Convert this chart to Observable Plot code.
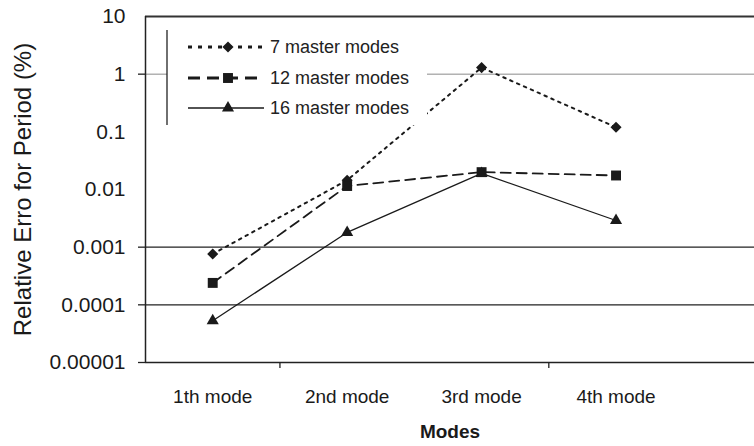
<!DOCTYPE html>
<html><head><meta charset="utf-8">
<script src="https://cdn.jsdelivr.net/npm/d3@7"></script>
<script src="https://cdn.jsdelivr.net/npm/@observablehq/plot@0.6"></script>
<style>
html,body{margin:0;padding:0;background:#fff;}
#wrap{position:relative;width:754px;height:446px;}
#wrap svg{font-family:"Liberation Sans",Arial,sans-serif;}
#legend{position:absolute;left:0;top:0;}
</style></head><body><div id="wrap"></div>
<script>
// ---- data ----
const modes = ["1th mode", "2nd mode", "3rd mode", "4th mode"];
const seriesNames = ["7 master modes", "12 master modes", "16 master modes"];
const err7 = [0.00076, 0.0145, 1.3, 0.12];
const err12 = [0.00024, 0.0115, 0.020, 0.0175];
const err16 = [0.000053, 0.0018, 0.019, 0.0029];
const yTickValues = [10, 1, 0.1, 0.01, 0.001, 0.0001, 0.00001];
const yTickLabels = ["10", "1", "0.1", "0.01", "0.001", "0.0001", "0.00001"];
const yTickMarkValues = [1, 0.001, 0.0001, 0.00001];
const gridLight = [1];
const gridDark = [0.001, 0.0001];
const xBoundaryTicks = [0.5, 2.5];
const yTitle = "Relative Erro for Period (%)";
const xTitle = "Modes";

const seriesValues = [err7, err12, err16];
const data = seriesNames.flatMap((s, k) =>
  modes.map((m, i) => ({series: s, idx: i, mode: m, value: seriesValues[k][i]})));
const modeIdx = modes.map((m, i) => i);

const styles = [
  {symbol: "diamond2", r: 5, dash: "2.5,5", width: 2, legDash: "4,6", legWidth: 3},
  {symbol: "square", r: 5.6, dash: "10,6", width: 1.8, legDash: "12,7", legWidth: 3},
  {symbol: "triangle", r: 4.5, dash: null, width: 1.3, legDash: null, legWidth: 1.6}
];
const ink = "#1a1a1a";

const seriesMarks = seriesNames.flatMap((s, k) => {
  const st = styles[k];
  const rows = data.filter(d => d.series === s);
  return [
    Plot.line(rows, {x: "idx", y: "value", stroke: ink, strokeWidth: st.width,
      strokeDasharray: st.dash ?? undefined}),
    Plot.dot(rows, {x: "idx", y: "value", symbol: () => st.symbol, r: st.r, fill: ink, stroke: "none"})
  ];
});

const chart = Plot.plot({
  width: 754, height: 446,
  marginLeft: 145, marginRight: 0, marginTop: 16, marginBottom: 84,
  style: {fontFamily: '"Liberation Sans", Arial, sans-serif', color: ink, background: "#fff", overflow: "visible"},
  x: {type: "linear", domain: [-0.5, 4.03]},
  y: {type: "log", domain: [1e-5, 10]},
  symbol: {type: "identity"},
  marks: [
    Plot.ruleY(gridLight, {stroke: "#8a8a8a", strokeWidth: 1}),
    Plot.ruleY(gridDark, {stroke: "#222", strokeWidth: 1.3}),
    Plot.ruleY([10], {stroke: "#333", strokeWidth: 2}),
    Plot.ruleY([1e-5], {stroke: "#222", strokeWidth: 1.5}),
    Plot.ruleX([-0.5], {stroke: "#222", strokeWidth: 1.5}),
    Plot.axisY(yTickValues, {tickSize: 0, tickPadding: 20, fontSize: 21, label: null,
      tickFormat: d => yTickLabels[yTickValues.indexOf(d)]}),
    Plot.axisY(yTickMarkValues, {tickSize: 7, tickFormat: () => "", label: null, stroke: "#222", strokeWidth: 1.3}),
    Plot.axisX(modeIdx, {tickSize: 0, tickPadding: 27, fontSize: 19, label: null,
      tickFormat: i => modes[i]}),
    Plot.axisX(xBoundaryTicks, {tickSize: 6, tickFormat: () => "", label: null, stroke: "#222", strokeWidth: 1.3}),
    Plot.text([yTitle], {text: d => d, frameAnchor: "left", textAnchor: "middle", dx: -122, rotate: -90, fontSize: 24}),
    Plot.text([xTitle], {text: d => d, frameAnchor: "bottom", dy: 75, fontSize: 19, fontWeight: "bold"}),
    ...seriesMarks
  ]
});
document.getElementById("wrap").appendChild(chart);

// ---- legend overlay ----
const leg = d3.select("#wrap").append("svg").attr("id", "legend")
  .attr("width", 754).attr("height", 446).style("pointer-events", "none");
const box = {x: 167, y: 30, w: 260, h: 95};
leg.append("rect").attr("x", box.x).attr("y", box.y).attr("width", box.w).attr("height", box.h).attr("fill", "#fff");
leg.append("line").attr("x1", box.x).attr("x2", box.x).attr("y1", box.y).attr("y2", box.y + box.h)
  .attr("stroke", "#222").attr("stroke-width", 1.3);
const rowY = [47, 78, 108];
seriesNames.forEach((s, k) => {
  const st = styles[k];
  const y = rowY[k];
  const ln = leg.append("line").attr("x1", 188).attr("x2", 264).attr("y1", y).attr("y2", y)
    .attr("stroke", ink).attr("stroke-width", st.legWidth);
  if (st.legDash) ln.attr("stroke-dasharray", st.legDash);
  const symType = {diamond2: d3.symbolDiamond2, square: d3.symbolSquare, triangle: d3.symbolTriangle}[st.symbol];
  leg.append("path").attr("d", d3.symbol(symType, st.r * st.r * Math.PI)())
    .attr("transform", `translate(228,${y})`).attr("fill", ink);
  leg.append("text").attr("x", 270).attr("y", y).attr("dy", "0.35em")
    .attr("font-size", 18).attr("fill", "#222").text(s);
});
</script></body></html>
